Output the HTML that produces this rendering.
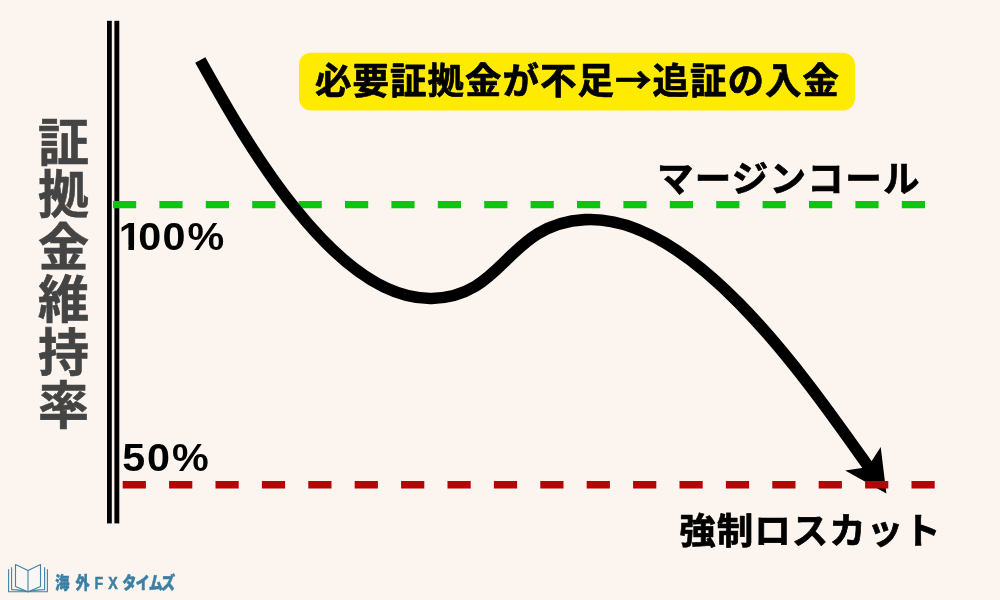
<!DOCTYPE html>
<html lang="ja">
<head>
<meta charset="utf-8">
<title>証拠金維持率</title>
<style>
html,body{margin:0;padding:0;}
body{width:1000px;height:600px;background:#fcf4ee;overflow:hidden;position:relative;font-family:"Liberation Sans","Noto Sans CJK JP",sans-serif;}
svg{position:absolute;left:0;top:0;}
.jp{font-family:"Liberation Sans","Noto Sans CJK JP",sans-serif;font-weight:700;}
.bd{fill:#000;stroke:#000;stroke-width:0.7px;stroke-linejoin:round;}
.vt{fill:#444;stroke:#444;stroke-width:0.6px;}
.nm{fill:#000;}
.lg{font-weight:900;fill:#3b80a4;stroke:#3b80a4;stroke-width:0.5px;stroke-linejoin:round;}
.cjk{font-family:"Noto Sans CJK JP","Liberation Sans",sans-serif;}
</style>
</head>
<body>
<svg width="1000" height="600" viewBox="0 0 1000 600">
  <!-- axis double line -->
  <rect x="107" y="20.8" width="4.8" height="502.6" fill="#000"/>
  <rect x="114.4" y="20.8" width="4.9" height="502.6" fill="#000"/>
  <!-- title box -->
  <rect x="299" y="52.8" width="556" height="57.7" rx="12" fill="#ffeb00"/>
  <text class="jp cjk bd" x="315" y="93.5" font-size="36.5" letter-spacing="1">必要証拠金が不足→追証の入金</text>
  <text class="jp bd" x="656.9" y="191.7" font-size="36.5" letter-spacing="1.3">マージンコール</text>
  <text class="jp bd" x="679.3" y="543.8" font-size="36.5" letter-spacing="1">強制ロスカット</text>
  <text class="jp nm" transform="scale(1.06,1)" x="112.06 130.45 153.38 176.94" y="250" font-size="39">100%</text>
  <rect x="120.35" y="245.2" width="8.07" height="5.6" fill="#fcf4ee"/><rect x="134.00" y="245.2" width="7.6" height="5.6" fill="#fcf4ee"/>
  <text class="jp nm" transform="scale(1.06,1)" x="115.35 138.71 162.27" y="470.6" font-size="39">50%</text>
  <!-- vertical label -->
  <text class="jp vt" font-size="51" text-anchor="middle" x="63.6 63.6 63.6 63.6 63.6 63.6" y="160.80 213.35 265.90 318.45 371.00 423.55">証拠金維持率</text>
  <!-- green dashed -->
  <line x1="113" y1="204.6" x2="926" y2="204.6" stroke="#12c212" stroke-width="7.3" stroke-dasharray="23.2 23.2"/>
  <!-- curve -->
  <path d="M200.30 60.00 C237.81 126.97 331.34 300.15 431.57 298.46 C504.80 297.23 506.34 224.05 584.61 219.60 C692.05 213.49 805.44 377.84 866.85 464.50 L868.58 466.95" fill="none" stroke="#000" stroke-width="11.6"/>
  <polygon points="886.4,493.5 845.2,470.6 862,468.1 871.7,461 880.7,446.9" fill="#000"/>
  <!-- red dashed -->
  <line x1="122.7" y1="484.8" x2="936" y2="484.8" stroke="#b40406" stroke-width="7.6" stroke-dasharray="23.2 23.2"/>
  <!-- logo -->
  <g fill="none" stroke="#3f84a7" stroke-width="1.1" stroke-linejoin="round">
    <path d="M8.6 569.2 V591.7 H47.4 V569.2"/>
    <path d="M11.6 567.2 V589.6 Q22 590.2 28 591.7 Q34 590.2 44.6 589.6 V567.2"/>
    <path d="M15.5 564.6 L28 570.6 L40.5 564.6 V586.6 L28 591.7 L15.5 586.6 Z" fill="#faf6f3"/>
    <path d="M28 570.6 V591.7"/>
  </g>
  <text class="jp lg" transform="scale(0.82,1)" x="67.34 91.94 115.30 132.09 149.06 165.30 181.38 196.36" y="589" font-size="17.3">海外FXタイムズ</text>
</svg>
</body>
</html>
